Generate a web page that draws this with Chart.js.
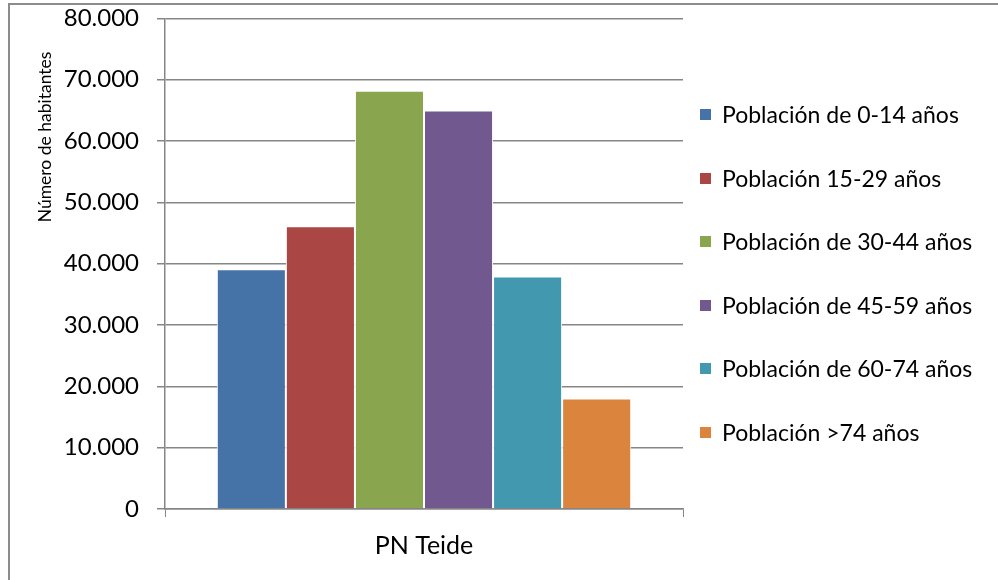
<!DOCTYPE html>
<html>
<head>
<meta charset="utf-8">
<script src="https://cdn.jsdelivr.net/npm/chart.js@4"></script>
<style>
  html,body{margin:0;padding:0;background:#fff;}
  .wrap{position:relative;width:998px;height:580px;overflow:hidden;font-family:Lato,"Open Sans",sans-serif;}
  .frame{position:absolute;left:8px;top:3px;width:1000px;height:600px;border:1px solid #8c8c8c;border-width:2px 0 0 2px;box-sizing:border-box;}
  canvas{position:absolute;left:0;top:-14px;}
  .legend{position:absolute;left:700px;top:98px;margin:0;padding:0;list-style:none;}
  .legend li{height:63.6px;display:flex;align-items:flex-start;font-size:23px;color:#000;line-height:32px;white-space:nowrap;}
  .legend i{display:inline-block;width:11px;height:11px;margin:11px 11px 0 0;flex:none;}
</style>
</head>
<body>
<div class="wrap">
  <div class="frame"></div>
  <canvas id="chart" width="998" height="594"></canvas>
  <ul class="legend" id="legend"></ul>
</div>
<script>
const categories = ['PN Teide'];
const seriesLabels = [
  'Población de 0-14 años',
  'Población 15-29 años',
  'Población de 30-44 años',
  'Población de 45-59 años',
  'Población de 60-74 años',
  'Población >74 años'
];
const seriesValues = [39100, 46100, 68200, 65000, 37900, 18000];
const seriesColors = ['#4572A7','#AA4643','#89A54E','#71588F','#4198AF','#DB843D'];
const yTicks = [0,10000,20000,30000,40000,50000,60000,70000,80000];
const yTitle = 'Número de habitantes';

const fontFamily = 'Lato, "Open Sans", sans-serif';
const axisGray = '#868686';

function fmt(v){
  return String(v).replace(/\B(?=(\d{3})+(?!\d))/g, '.');
}

// canvas sits 14px higher than the page, so the title is drawn 14px lower in it
const yTitlePlugin = {
  id:'yTitle',
  afterDraw(chart){
    const ctx = chart.ctx;
    ctx.save();
    ctx.translate(45, 151);
    ctx.rotate(-Math.PI/2);
    ctx.font = '17.5px ' + fontFamily;
    ctx.fillStyle = '#000';
    ctx.textAlign = 'center';
    ctx.textBaseline = 'middle';
    ctx.fillText(yTitle, 0, 0);
    ctx.restore();
  }
};

const datasets = seriesLabels.map((label, i) => ({
  label: label,
  data: [seriesValues[i]],
  backgroundColor: seriesColors[i],
  borderColor: '#ffffff',
  borderWidth: 1,
  categoryPercentage: .8,
  barPercentage: 1
}));

new Chart(document.getElementById('chart'), {
  type:'bar',
  data:{ labels: categories, datasets: datasets },
  options:{
    responsive:false,
    animation:false,
    layout:{ padding:{ top:2, right:315, left:0, bottom:0 } },
    plugins:{ legend:{ display:false }, tooltip:{ enabled:false } },
    scales:{
      x:{
        offset:true,
        grid:{ display:true, offset:true, drawOnChartArea:false, color:axisGray, tickLength:8, lineWidth:1 },
        border:{ display:true, color:axisGray, width:1.5 },
        ticks:{ color:'#000', font:{ size:25, family:fontFamily }, padding:14 },
        afterFit(scale){ scale.height = 71; }
      },
      y:{
        min:0, max:80000,
        afterBuildTicks(scale){ scale.ticks = yTicks.map(v => ({ value:v })); },
        grid:{ color:axisGray, lineWidth:1.5, tickLength:8 },
        border:{ display:true, color:axisGray, width:1.5 },
        ticks:{ color:'#000', font:{ size:24, family:fontFamily }, padding:18, callback:v => fmt(v) },
        afterFit(scale){ scale.width = 165; }
      }
    }
  },
  plugins:[yTitlePlugin]
});

const legendEl = document.getElementById('legend');
seriesLabels.forEach((label, i) => {
  const li = document.createElement('li');
  const sw = document.createElement('i');
  sw.style.background = seriesColors[i];
  li.appendChild(sw);
  li.appendChild(document.createTextNode(label));
  legendEl.appendChild(li);
});
</script>
</body>
</html>
